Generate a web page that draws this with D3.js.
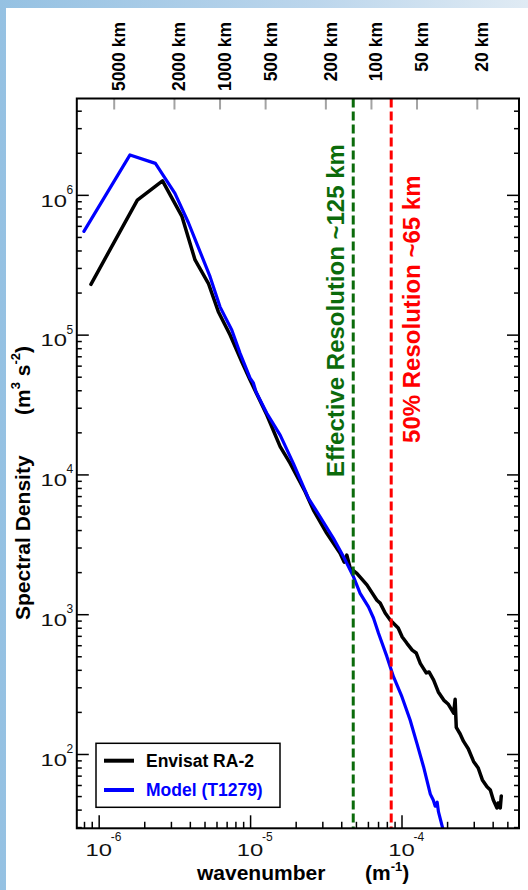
<!DOCTYPE html>
<html><head><meta charset="utf-8">
<script src="https://cdn.jsdelivr.net/npm/d3@7"></script>
<style>
html,body{margin:0;padding:0;background:#fff;}
svg{display:block;}
text{font-family:"Liberation Sans",Arial,Helvetica,sans-serif;}
</style></head><body>
<svg id="c" width="528" height="890"></svg>
<script>
// ---- data (wavenumber in m^-1, spectral density in m^3 s^-2) ----
const envisatWavenumber = [8.89e-7,1.80e-6,2.64e-6,3.54e-6,4.33e-6,5.30e-6,6.17e-6,7.38e-6,8.81e-6,1.00e-5,
  1.29e-5,1.58e-5,1.84e-5,2.31e-5,2.62e-5,3.21e-5,3.93e-5,4.18e-5,4.35e-5,4.58e-5,5.07e-5,5.91e-5,6.88e-5,
  7.23e-5,7.80e-5,8.42e-5,9.51e-5,1.011e-4,1.086e-4,1.177e-4,1.25e-4,1.33e-4,1.456e-4,1.52e-4,1.63e-4,1.75e-4,
  1.90e-4,2.03e-4,2.21e-4,2.26e-4,2.30e-4,2.44e-4,2.57e-4,2.76e-4,2.99e-4,3.21e-4,3.42e-4,3.67e-4,3.86e-4,
  4.04e-4,4.27e-4,4.35e-4,4.49e-4,4.56e-4];
const envisatDensity = [2.29e5,9.18e5,1.26e6,7.05e5,3.42e5,2.33e5,1.46e5,9.93e4,6.40e4,4.74e4,
  2.66e4,1.58e4,1.20e4,7.52e3,5.56e3,3.79e3,2.73e3,2.36e3,2.65e3,2.14e3,1.96e3,1.62e3,1.26e3,
  1.20e3,1.02e3,909,797,687,619,554,528,445,380,386,338,278,
  243,228,196,246,155,139,123,109,88.5,79.4,65.2,58.3,55.3,
  46.9,41.1,44.6,41.1,50.1];
const modelWavenumber = [7.99e-7,1.61e-6,2.37e-6,3.19e-6,3.91e-6,4.44e-6,5.44e-6,6.33e-6,7.57e-6,8.59e-6,
  1.00e-5,1.051e-5,1.095e-5,1.29e-5,1.58e-5,1.93e-5,2.43e-5,2.90e-5,3.55e-5,4.14e-5,4.82e-5,5.33e-5,6.05e-5,
  6.53e-5,7.05e-5,8.01e-5,8.85e-5,1.006e-4,1.14e-4,1.264e-4,1.398e-4,1.55e-4,1.62e-4,1.67e-4,1.72e-4,1.755e-4,1.89e-4];
const modelDensity = [5.48e5,1.93e6,1.68e6,1.025e6,6.34e5,4.50e5,2.60e5,1.58e5,1.08e5,7.35e4,
  4.89e4,4.51e4,3.89e4,2.74e4,1.91e4,1.20e4,6.75e3,4.98e3,3.49e3,2.58e3,1.85e3,1.41e3,1.13e3,
  939,730,497,357,257,175,119,81.1,51.6,46.8,42.3,45.2,38.5,28.2];

const seriesNames = ["Envisat RA-2","Model (T1279)"];
const seriesColors = ["#000000","#0000ff"];
const yMajorExponents = [2,3,4,5,6];
const xMajorExponents = [-6,-5,-4];
const wavelengthKm = [5000,2000,1000,500,200,100,50,20];
const resolutionK = [4.80e-5, 8.55e-5];
const resolutionLabels = ["Effective Resolution ~125 km","50% Resolution ~65 km"];
const resolutionColors = ["#0b6b0b","#ff0000"];
const resolutionLabelStart = [9.6e3, 1.68e4];

// ---- layout ----
const W=528,H=890;
const L=76.8,R=519,T=98.5,B=828.3;
const svg=d3.select("#c");
const defs=svg.append("defs");
const grad=defs.append("linearGradient").attr("id","bg").attr("x1",0).attr("x2",1).attr("y1",0).attr("y2",0);
grad.append("stop").attr("offset",0).attr("stop-color","#95c1e2");
grad.append("stop").attr("offset",0.6).attr("stop-color","#bcd6ec");
grad.append("stop").attr("offset",1).attr("stop-color","#e0ebf4");
svg.append("rect").attr("width",W).attr("height",H).attr("fill","url(#bg)");
svg.append("rect").attr("x",6).attr("y",8).attr("width",W-6).attr("height",H-8).attr("fill","#fff");
defs.append("clipPath").attr("id","clip").append("rect").attr("x",L).attr("y",T).attr("width",R-L).attr("height",B-T);

const x=d3.scaleLog().domain([7.17e-7,5.97e-4]).range([L,R]);
const y=d3.scaleLog().domain([29.4,4.89e6]).range([B,T]);

// tick values
const yMajor=yMajorExponents.map(e=>Math.pow(10,e));
const yMinor=[];
for(let e=1;e<=6;e++)for(let m=2;m<=9;m++){const v=m*Math.pow(10,e);if(v>=29.4&&v<=4.89e6)yMinor.push(v);}
const xMajor=xMajorExponents.map(e=>Math.pow(10,e));
const xMinor=[];
for(let e=-7;e<=-4;e++)for(let m=2;m<=9;m++){const v=m*Math.pow(10,e);if(v>=7.17e-7&&v<=5.97e-4)xMinor.push(v);}
const kmK=wavelengthKm.map(km=>2*Math.PI/(km*1000));

function styleAxis(g,color,width){
  g.select(".domain").remove();
  g.selectAll(".tick line").attr("stroke",color).attr("stroke-width",width);
  g.selectAll(".tick text").remove();
}
const axes=svg.append("g");
axes.append("g").attr("transform",`translate(${L},0)`).call(d3.axisLeft(y).tickValues(yMajor).tickSizeInner(-12).tickSizeOuter(0)).call(g=>styleAxis(g,"#000",1.5));
axes.append("g").attr("transform",`translate(${L},0)`).call(d3.axisLeft(y).tickValues(yMinor).tickSizeInner(-5).tickSizeOuter(0)).call(g=>styleAxis(g,"#000",1.5));
axes.append("g").attr("transform",`translate(${R},0)`).call(d3.axisRight(y).tickValues(yMajor).tickSizeInner(-12).tickSizeOuter(0)).call(g=>styleAxis(g,"#000",1.5));
axes.append("g").attr("transform",`translate(${R},0)`).call(d3.axisRight(y).tickValues(yMinor).tickSizeInner(-5).tickSizeOuter(0)).call(g=>styleAxis(g,"#000",1.5));
axes.append("g").attr("transform",`translate(0,${B})`).call(d3.axisBottom(x).tickValues(xMajor).tickSizeInner(-13).tickSizeOuter(0)).call(g=>styleAxis(g,"#000",1.5));
axes.append("g").attr("transform",`translate(0,${B})`).call(d3.axisBottom(x).tickValues(xMinor).tickSizeInner(-6.5).tickSizeOuter(0)).call(g=>styleAxis(g,"#000",1.5));
axes.append("g").attr("transform",`translate(0,${T})`).call(d3.axisTop(x).tickValues(kmK).tickSizeInner(-11).tickSizeOuter(0)).call(g=>styleAxis(g,"#a3a3a3",2));

// y tick labels
svg.append("g").selectAll("g").data(yMajor).join("g")
  .attr("transform",d=>`translate(67,${y(d)})`)
  .each(function(d){
    const g=d3.select(this);
    g.append("text").attr("transform","scale(1.4,1)").attr("y",11.8).attr("text-anchor","end").attr("font-size",17).attr("fill","#111").text("10");
    g.append("text").attr("x",-0.5).attr("y",-1).attr("font-size",12).attr("fill","#111").text(Math.round(Math.log10(d)));
  });
// x tick labels
svg.append("g").selectAll("g").data(xMajor).join("g")
  .attr("transform",d=>`translate(${x(d)},0)`)
  .each(function(d){
    const g=d3.select(this);
    g.append("text").attr("transform","scale(1.4,1)").attr("y",856.2).attr("text-anchor","middle").attr("font-size",17).attr("fill","#111").text("10");
    g.append("text").attr("x",12).attr("y",841).attr("font-size",12).attr("fill","#111").text(Math.round(Math.log10(d)));
  });
// top km labels
svg.append("g").selectAll("text").data(wavelengthKm).join("text")
  .attr("transform",(d,i)=>`translate(${x(kmK[i])+11.5},22) rotate(-90)`)
  .attr("text-anchor","end").attr("font-size",17.5).attr("font-weight","bold").attr("fill","#000")
  .text(d=>d+" km");

// curves
const line=d3.line().x(d=>x(d[0])).y(d=>y(d[1]));
const series=[d3.zip(envisatWavenumber,envisatDensity),d3.zip(modelWavenumber,modelDensity)];
const plot=svg.append("g").attr("clip-path","url(#clip)");
plot.selectAll("path").data(series).join("path")
  .attr("d",line).attr("fill","none")
  .attr("stroke",(d,i)=>seriesColors[i]).attr("stroke-width",(d,i)=>i===0?3.5:3.2)
  .attr("stroke-linejoin","round").attr("stroke-linecap","round");

// resolution lines
plot.selectAll("line.res").data(resolutionK).join("line").attr("class","res")
  .attr("x1",d=>x(d)).attr("x2",d=>x(d)).attr("y1",T).attr("y2",B)
  .attr("stroke",(d,i)=>resolutionColors[i]).attr("stroke-width",3).attr("stroke-dasharray","9,4");
const resOffsets=[-9.3,29.2];
svg.append("g").selectAll("text").data(resolutionLabels).join("text")
  .attr("transform",(d,i)=>`translate(${x(resolutionK[i])+resOffsets[i]},${y(resolutionLabelStart[i])}) rotate(-90)`)
  .attr("font-size",24).attr("font-weight","bold").attr("fill",(d,i)=>resolutionColors[i])
  .text(d=>d);

// frame
svg.append("rect").attr("x",L).attr("y",T).attr("width",R-L).attr("height",B-T)
  .attr("fill","none").attr("stroke","#000").attr("stroke-width",2);

// axis titles
const xt=svg.append("g").attr("font-weight","bold").attr("font-size",21).attr("fill","#000");
xt.append("text").attr("x",197).attr("y",880).text("wavenumber");
const xu=xt.append("text").attr("x",365).attr("y",880);
xu.append("tspan").text("(m");
xu.append("tspan").attr("font-size",13).attr("dy",-9).text("-1");
xu.append("tspan").attr("dy",9).text(")");

const yt=svg.append("g").attr("font-weight","bold").attr("font-size",21).attr("fill","#000");
yt.append("text").attr("transform","translate(30,620) rotate(-90)").text("Spectral Density");
const yu=yt.append("text").attr("transform","translate(30,415) rotate(-90)");
yu.append("tspan").text("(m");
yu.append("tspan").attr("font-size",13).attr("dy",-10).text("3");
yu.append("tspan").attr("dy",10).text(" s");
yu.append("tspan").attr("font-size",13).attr("dy",-10).text("-2");
yu.append("tspan").attr("dy",10).text(")");

// legend
const lg=svg.append("g");
lg.append("rect").attr("x",96).attr("y",743.3).attr("width",184).attr("height",64)
  .attr("fill","#fff").attr("stroke","#000").attr("stroke-width",1.5);
const rows=lg.selectAll("g").data(seriesNames).join("g")
  .attr("transform",(d,i)=>`translate(0,${760.7+i*29.3})`);
rows.append("line").attr("x1",104).attr("x2",134).attr("stroke",(d,i)=>seriesColors[i]).attr("stroke-width",4);
rows.append("text").attr("x",146).attr("y",6).attr("font-size",17.5).attr("font-weight","bold")
  .attr("fill",(d,i)=>seriesColors[i]).text(d=>d);
</script>
</body></html>
